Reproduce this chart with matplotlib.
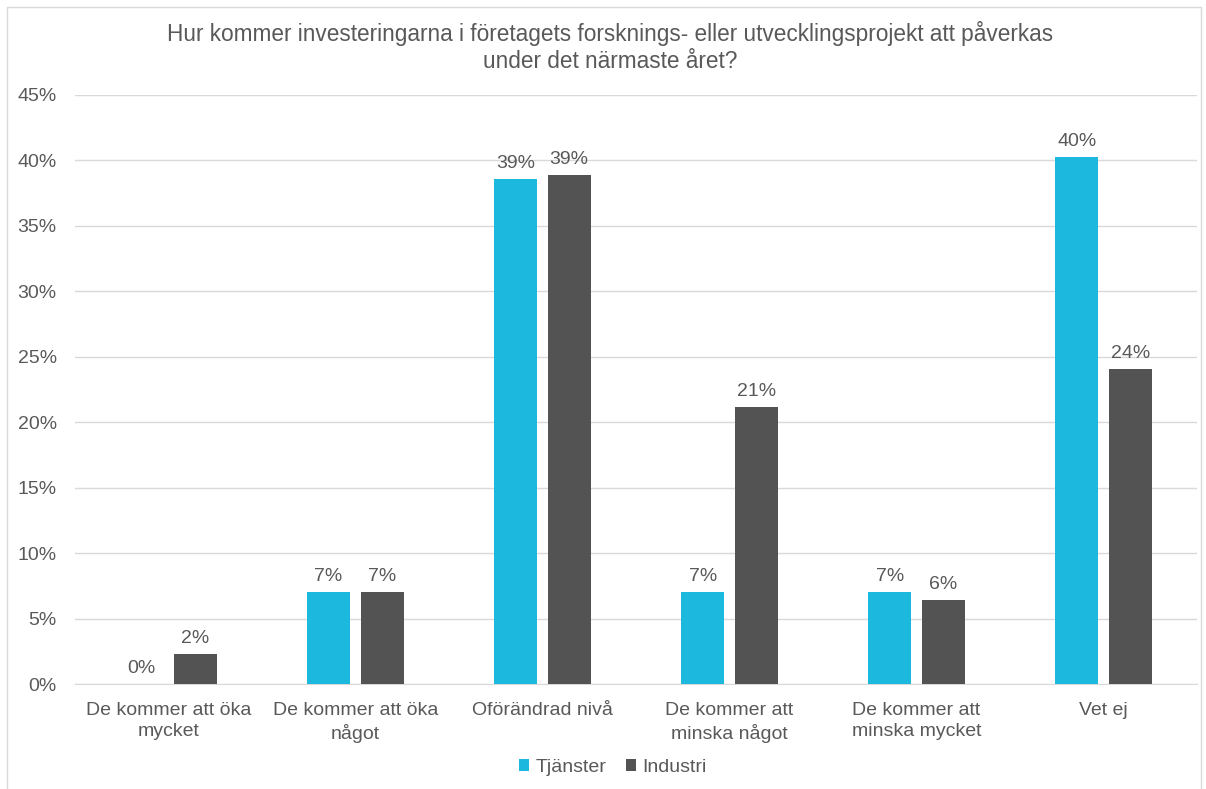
import matplotlib
matplotlib.use('Agg')
import matplotlib.pyplot as plt
from matplotlib.patches import Rectangle
import numpy as np

categories = ['De kommer att öka\nmycket', 'De kommer att öka\nnågot', 'Oförändrad nivå',
              'De kommer att\nminska något', 'De kommer att\nminska mycket', 'Vet ej']
tjanster = [0.0, 7.0, 38.6, 7.0, 7.0, 40.3]
industri = [2.3, 7.05, 38.9, 21.2, 6.4, 24.1]
series_names = ['Tjänster', 'Industri']
title = ('Hur kommer investeringarna i företagets forsknings- eller utvecklingsprojekt att påverkas\n'
         'under det närmaste året?')

plt.rcParams['font.family'] = ['Liberation Sans', 'DejaVu Sans']
txt = '#595959'
c_tj = '#1DB8DD'
c_in = '#535353'

fig = plt.figure(figsize=(12.06, 7.89), dpi=100)
ax = fig.add_axes([0.062, 0.133, 0.9305, 0.7466])

x = np.arange(len(categories))
w = 0.23
off = 0.143
b1 = ax.bar(x - off, tjanster, w, color=c_tj, label=series_names[0], zorder=3)
b2 = ax.bar(x + off, industri, w, color=c_in, label=series_names[1], zorder=3)

for bars, vals in ((b1, tjanster), (b2, industri)):
    for b, v in zip(bars, vals):
        ax.annotate(f'{v:.0f}%', (b.get_x() + b.get_width() / 2, v),
                    xytext=(0, 5), textcoords='offset points', ha='center', va='bottom',
                    fontsize=14, color=txt)

ax.set_xlim(-0.5, len(categories) - 0.5)
ax.set_ylim(0, 45)
ax.set_yticks(range(0, 46, 5))
ax.set_yticklabels([f'{t}%' for t in range(0, 46, 5)])
ax.set_xticks(x)
ax.set_xticklabels(categories, linespacing=1.32)
ax.tick_params(axis='both', length=0, labelsize=14, colors=txt)
ax.tick_params(axis='y', pad=13)
ax.tick_params(axis='x', pad=13)
ax.grid(axis='y', color='#D9D9D9', linewidth=1, zorder=0)
for s in ('top', 'right', 'left'):
    ax.spines[s].set_visible(False)
ax.spines['bottom'].set_color('#D9D9D9')

fig.text(0.506, 0.974, title, ha='center', va='top', fontsize=16.3, color=txt, linespacing=1.25)

fig.legend(loc='center', bbox_to_anchor=(0.508, 0.027), ncol=2, frameon=False, fontsize=14,
           handlelength=0.55, handleheight=0.55, handletextpad=0.3, columnspacing=1.0,
           labelcolor=txt)

fig.patches.append(Rectangle((7 / 1206, -0.01), 1194 / 1206, 1 - 7 / 789 + 0.01,
                             transform=fig.transFigure, fill=False, edgecolor='#D9D9D9',
                             linewidth=1))

fig.savefig('out.png', dpi=100)
